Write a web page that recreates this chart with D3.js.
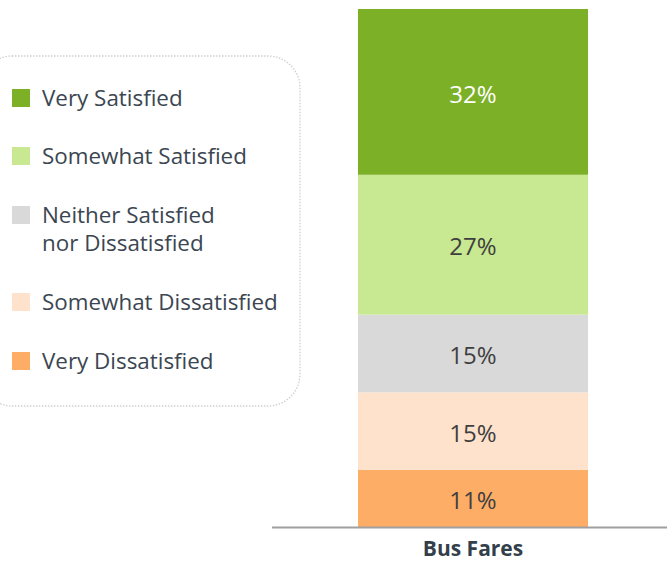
<!DOCTYPE html>
<html>
<head>
<meta charset="utf-8">
<script src="https://cdn.jsdelivr.net/npm/d3@7"></script>
<style>
  body { margin: 0; background: #fff; }
  svg { font-family: "Open Sans", "Segoe UI", sans-serif; }
</style>
</head>
<body>
<svg id="chart" width="667" height="561"></svg>
<script>
const categories = ["Bus Fares"];
const seriesNames = ["Very Dissatisfied", "Somewhat Dissatisfied", "Neither Satisfied nor Dissatisfied", "Somewhat Satisfied", "Very Satisfied"];
const seriesValues = [11, 15, 15, 27, 32];
const colors = ["#fdad65", "#fee2cc", "#d9d9d9", "#c8e891", "#7cb127"];
const labelColors = ["#3f3f3f", "#3f3f3f", "#3f3f3f", "#3f3f3f", "#ffffff"];

const svg = d3.select("#chart");
const width = +svg.attr("width");
const height = +svg.attr("height");

const row = { category: categories[0] };
seriesNames.forEach((s, i) => (row[s] = seriesValues[i]));
const stacked = d3.stack().keys(seriesNames)([row]);

const x = d3.scaleBand().domain(categories).range([358, 588]).padding(0);
const y = d3.scaleLinear().domain([0, 100]).range([527, 9]);

// Bars
const layers = svg.append("g")
  .selectAll("g")
  .data(stacked)
  .join("g")
  .attr("fill", (d, i) => colors[i]);

layers.selectAll("rect")
  .data((d) => d)
  .join("rect")
  .attr("x", (d) => x(d.data.category))
  .attr("width", x.bandwidth())
  .attr("y", (d) => y(d[1]))
  .attr("height", (d) => y(d[0]) - y(d[1]));

// Value labels
stacked.forEach((layer, i) => {
  layer.forEach((d) => {
    svg.append("text")
      .attr("x", x(d.data.category) + x.bandwidth() / 2)
      .attr("y", (y(d[0]) + y(d[1])) / 2)
      .attr("dy", "0.45em")
      .attr("text-anchor", "middle")
      .attr("font-size", 24)
      .attr("fill", labelColors[i])
      .text(seriesValues[i] + "%");
  });
});

// x axis
const xAxisG = svg.append("g")
  .attr("transform", `translate(0,${y(0)})`)
  .call(d3.axisBottom(x).tickSize(0).tickPadding(14));
xAxisG.select(".domain").remove();
xAxisG.append("line")
  .attr("x1", 272).attr("x2", width)
  .attr("y1", 0.5).attr("y2", 0.5)
  .attr("stroke", "#a0a0a0")
  .attr("stroke-width", 2);
xAxisG.selectAll(".tick text")
  .attr("font-family", "Open Sans, sans-serif")
  .attr("font-size", 21)
  .attr("font-weight", "bold")
  .attr("fill", "#333f4a");

// Legend
svg.append("rect")
  .attr("x", -20).attr("y", 56)
  .attr("width", 320).attr("height", 350)
  .attr("rx", 32)
  .attr("fill", "none")
  .attr("stroke", "#cfcfcf")
  .attr("stroke-width", 1.3)
  .attr("stroke-dasharray", "1.5,1.5");

const legendItems = [
  { name: "Very Satisfied", lines: ["Very Satisfied"], cy: 98 },
  { name: "Somewhat Satisfied", lines: ["Somewhat Satisfied"], cy: 156 },
  { name: "Neither Satisfied nor Dissatisfied", lines: ["Neither Satisfied", "nor Dissatisfied"], cy: 215 },
  { name: "Somewhat Dissatisfied", lines: ["Somewhat Dissatisfied"], cy: 302 },
  { name: "Very Dissatisfied", lines: ["Very Dissatisfied"], cy: 361 }
];

const legend = svg.append("g")
  .selectAll("g")
  .data(legendItems)
  .join("g")
  .attr("transform", (d) => `translate(0,${d.cy})`);

legend.append("rect")
  .attr("x", 12).attr("y", -9)
  .attr("width", 18).attr("height", 18)
  .attr("fill", (d) => colors[seriesNames.indexOf(d.name)]);

legend.append("text")
  .attr("x", 42)
  .attr("font-size", 22.4)
  .attr("fill", "#3b4651")
  .selectAll("tspan")
  .data((d) => d.lines)
  .join("tspan")
  .attr("x", 42)
  .attr("y", (d, i) => i * 28)
  .attr("dy", "0.36em")
  .text((d) => d);
</script>
</body>
</html>
